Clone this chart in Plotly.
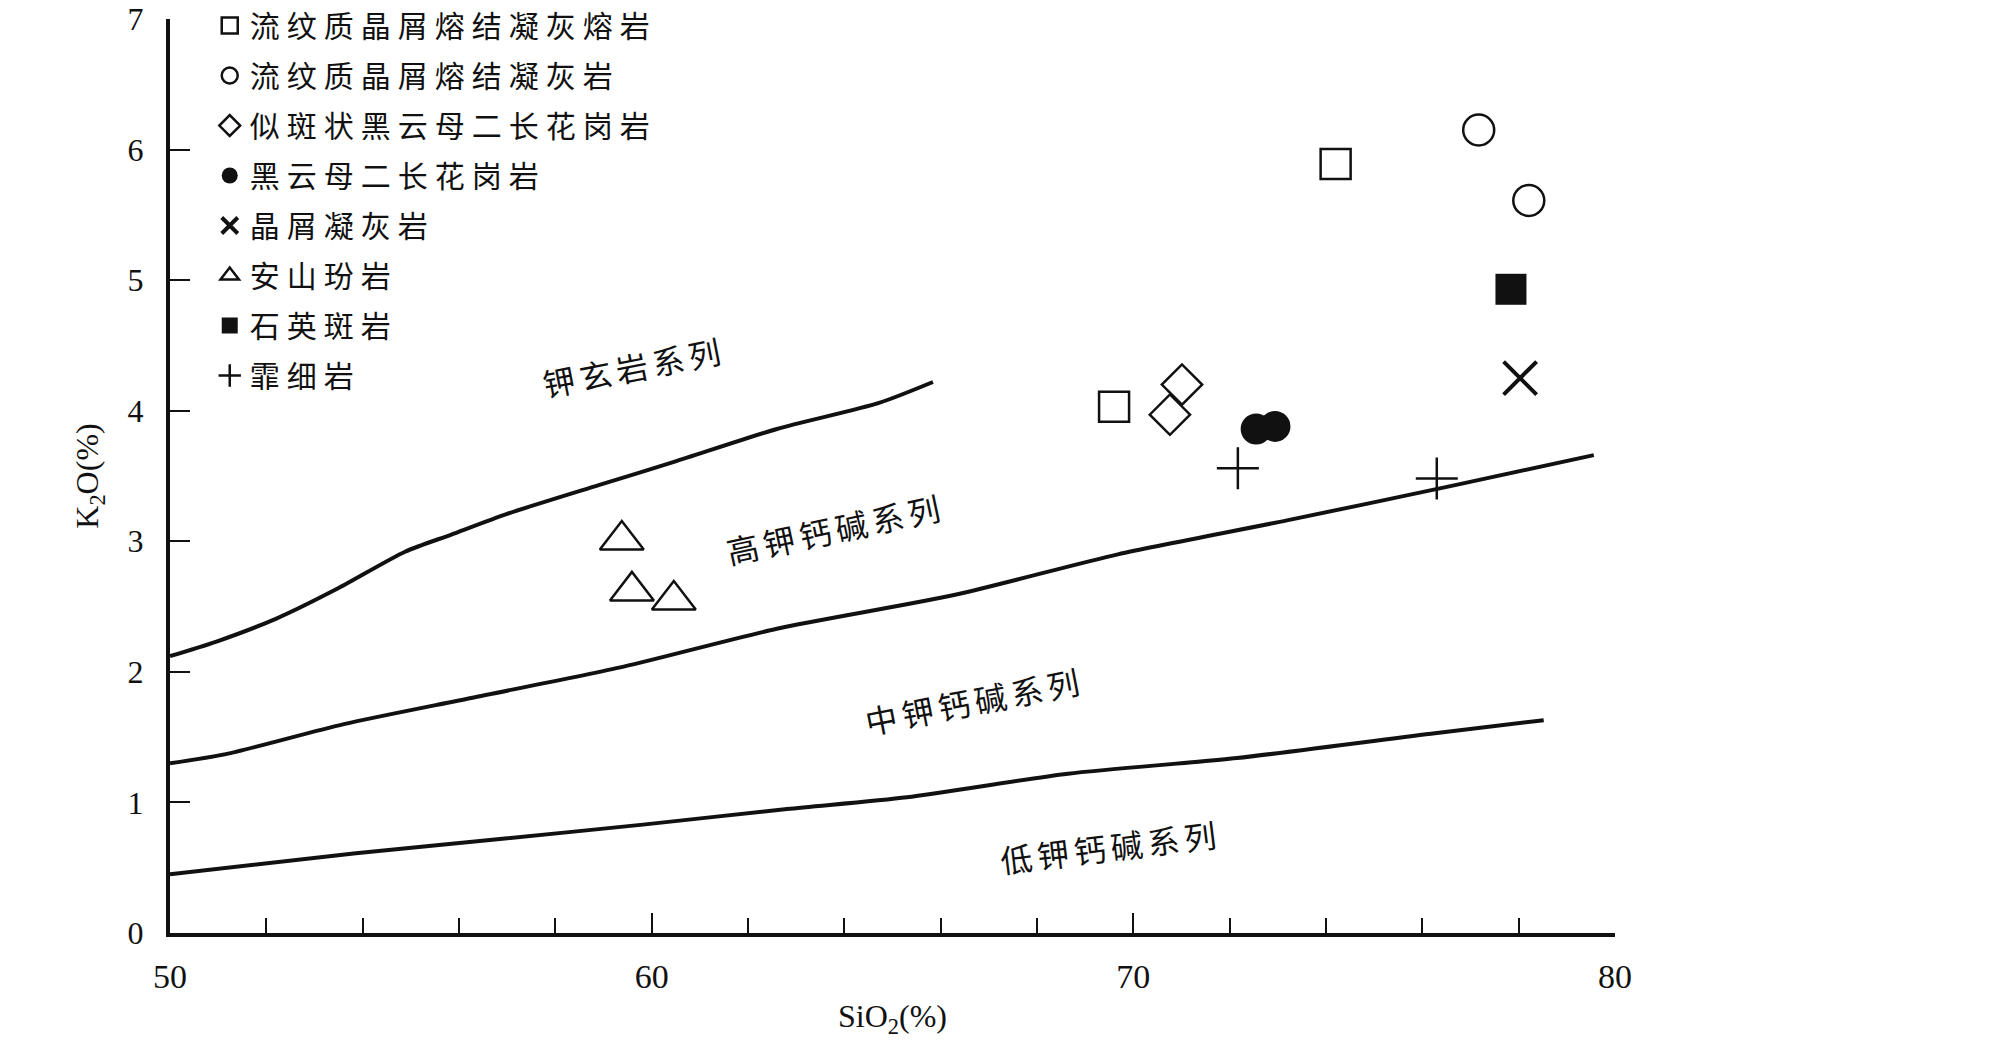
import plotly.graph_objects as go

# boundary lines of the K2O-SiO2 diagram
shoshonite_sio2 = [50, 50.95, 52.22, 53.49, 54.88, 55.83, 57.0, 58.9, 60.48, 62.6, 64.72, 65.84]
shoshonite_k2o = [2.12, 2.23, 2.41, 2.64, 2.92, 3.05, 3.21, 3.43, 3.61, 3.86, 4.06, 4.22]
highk_sio2 = [50, 51.16, 53.61, 56.25, 59.42, 62.6, 66.3, 69.68, 73.19, 76.68, 79.56]
highk_k2o = [1.30, 1.37, 1.60, 1.80, 2.04, 2.33, 2.59, 2.90, 3.16, 3.43, 3.66]
medk_sio2 = [50, 53.86, 56.85, 59.82, 62.81, 65.3, 68.64, 72.15, 76.26, 78.52]
medk_k2o = [0.45, 0.61, 0.72, 0.83, 0.95, 1.04, 1.22, 1.34, 1.53, 1.63]

# samples
rock_names = ['流纹质晶屑熔结凝灰熔岩', '流纹质晶屑熔结凝灰岩', '似斑状黑云母二长花岗岩',
              '黑云母二长花岗岩', '晶屑凝灰岩', '安山玢岩', '石英斑岩', '霏细岩']
rock_sio2 = [[74.2, 69.6], [77.17, 78.21], [71.01, 70.76], [72.55, 72.94],
             [78.03], [59.38, 59.59, 60.46], [77.84], [72.17, 76.30]]
rock_k2o = [[5.89, 4.03], [6.15, 5.61], [4.20, 3.97], [3.86, 3.88],
            [4.25], [3.01, 2.62, 2.55], [4.93], [3.56, 3.48]]

# field labels
field_names = ['钾玄岩系列', '高钾钙碱系列', '中钾钙碱系列', '低钾钙碱系列']
field_x = [59.65, 63.83, 66.71, 69.54]
field_y = [4.32, 3.08, 1.76, 0.64]
field_angle = [-11, -12, -11, -7]

INK = '#111111'
SERIF = 'Liberation Serif, Times New Roman, serif'
CJK = 'Liberation Serif, Noto Sans CJK SC, sans-serif'

symbols = ['square-open', 'circle-open', 'diamond-open', 'circle',
           'x-thin-open', 'triangle-up-open', 'square', 'cross-thin-open']
sizes = [30, 31, 31, 31, 33, 38, 31, 30]
widths = [2.5, 2.5, 2.5, 0, 4, 2.5, 0, 2.5]

fig = go.Figure()

for xs, ys in [(shoshonite_sio2, shoshonite_k2o), (highk_sio2, highk_k2o), (medk_sio2, medk_k2o)]:
    fig.add_trace(go.Scatter(x=xs, y=ys, mode='lines', showlegend=False,
                             line=dict(color=INK, width=4, shape='spline', smoothing=0.7),
                             hoverinfo='skip'))

for i, name in enumerate(rock_names):
    fig.add_trace(go.Scatter(
        x=rock_sio2[i], y=rock_k2o[i], mode='markers',
        name='<span style="letter-spacing:7px">' + name + '</span>',
        legendgroup='g%d' % i,
        marker=dict(symbol=symbols[i], size=sizes[i], color=INK,
                    line=dict(color=INK, width=widths[i])),
    ))

for t, x, y, a in zip(field_names, field_x, field_y, field_angle):
    fig.add_annotation(x=x, y=y, text='<span style="letter-spacing:5px">' + t + '</span>',
                       textangle=a, showarrow=False,
                       font=dict(family=CJK, size=32, color=INK))

# the page body adds an 8px margin, so the figure is 16px smaller than the window
fig.update_layout(
    width=1992, height=1031,
    margin=dict(l=162, r=385, t=11, b=106, autoexpand=False),
    paper_bgcolor='white', plot_bgcolor='white',
    font=dict(family=SERIF, color=INK),
    legend=dict(x=0.0275, y=1.0213, xanchor='left', yanchor='top',
                font=dict(family=CJK, size=30, color=INK),
                tracegroupgap=8, bgcolor='rgba(0,0,0,0)', itemwidth=30),
)

fig.update_xaxes(
    range=[50, 80], showgrid=False, zeroline=False, automargin=False,
    showline=True, linecolor=INK, linewidth=4,
    ticks='inside', dtick=10, tick0=50, ticklen=20, tickwidth=2, tickcolor=INK,
    minor=dict(dtick=2, ticks='inside', ticklen=15, tickwidth=2, tickcolor=INK),
    ticklabelstandoff=10, ticklabeloverflow='allow',
    tickfont=dict(family=SERIF, size=34, color=INK),
    title=dict(text='SiO<sub>2</sub>(%)', font=dict(family=SERIF, size=32, color=INK), standoff=26),
)
fig.update_yaxes(
    range=[0, 7], showgrid=False, zeroline=False, automargin=False,
    showline=True, linecolor=INK, linewidth=4,
    ticks='inside', dtick=1, ticklen=20, tickwidth=2, tickcolor=INK,
    ticklabelstandoff=16, ticklabeloverflow='allow',
    tickfont=dict(family=SERIF, size=32, color=INK),
    title=dict(text='K<sub>2</sub>O(%)', font=dict(family=SERIF, size=32, color=INK), standoff=20),
)

fig.write_html('out.html')
